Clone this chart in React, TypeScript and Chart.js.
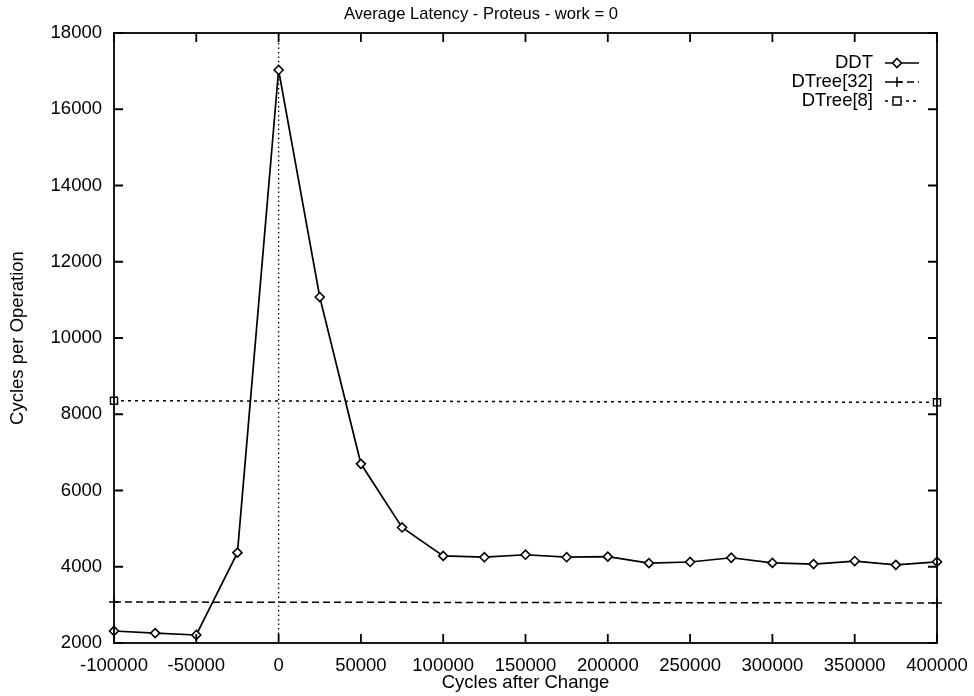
import React, { useEffect, useRef } from "react";
import { Chart, registerables } from "chart.js";

Chart.register(...registerables);

const TITLE = "Average Latency - Proteus - work = 0";
const X_TITLE = "Cycles after Change";
const Y_TITLE = "Cycles per Operation";

const ddtX = [
  -100000, -75000, -50000, -25000, 0, 25000, 50000, 75000, 100000, 125000, 150000,
  175000, 200000, 225000, 250000, 275000, 300000, 325000, 350000, 375000, 400000,
];
const ddtY = [
  2315, 2260, 2210, 4370, 17030, 11075, 6700, 5030, 4285, 4250, 4315,
  4250, 4265, 4095, 4125, 4236, 4100, 4070, 4150, 4050, 4130,
];
const dtree32X = [-100000, 400000];
const dtree32Y = [3075, 3050];
const dtree8X = [-100000, 400000];
const dtree8Y = [8355, 8313];

const X_MIN = -100000;
const X_MAX = 400000;
const X_STEP = 50000;
const Y_MIN = 2000;
const Y_MAX = 18000;
const Y_STEP = 2000;

const FONT = '"Liberation Sans", Arial, Helvetica, sans-serif';

const toPts = (xs: number[], ys: number[]) => xs.map((x, i) => ({ x, y: ys[i] }));

const framePlugin = {
  id: "frame",
  beforeDatasetsDraw(chart: any) {
    const { ctx, chartArea: a, scales } = chart;
    const xs = scales.x;
    const x0 = xs.getPixelForValue(0);
    ctx.save();
    ctx.strokeStyle = "#000";
    ctx.lineWidth = 1.3;
    ctx.setLineDash([1.5, 3]);
    ctx.beginPath();
    ctx.moveTo(x0, a.bottom);
    ctx.lineTo(x0, a.top);
    ctx.stroke();
    ctx.restore();
  },
  afterDraw(chart: any) {
    const { ctx, chartArea: a, scales } = chart;
    const xs = scales.x;
    const ys = scales.y;
    ctx.save();
    ctx.strokeStyle = "#000";
    ctx.lineWidth = 1.8;
    ctx.setLineDash([]);
    ctx.strokeRect(a.left, a.top, a.right - a.left, a.bottom - a.top);
    const L = 9;
    ctx.beginPath();
    xs.ticks.forEach((t: any) => {
      const px = xs.getPixelForValue(t.value);
      ctx.moveTo(px, a.bottom);
      ctx.lineTo(px, a.bottom - L);
      ctx.moveTo(px, a.top);
      ctx.lineTo(px, a.top + L);
    });
    ys.ticks.forEach((t: any) => {
      const py = ys.getPixelForValue(t.value);
      ctx.moveTo(a.left, py);
      ctx.lineTo(a.left + L, py);
      ctx.moveTo(a.right, py);
      ctx.lineTo(a.right - L, py);
    });
    ctx.stroke();

    // title
    ctx.fillStyle = "#000";
    ctx.font = `16.6px ${FONT}`;
    ctx.textAlign = "center";
    ctx.textBaseline = "middle";
    ctx.fillText(TITLE, 481, 14);

    // legend
    ctx.font = `18.5px ${FONT}`;
    const rows = [63, 82, 101];
    const textRight = 873;
    const lx0 = 885;
    const lx1 = 919;
    const mx = 897;
    chart.data.datasets.forEach((ds: any, i: number) => {
      const y = rows[i];
      ctx.fillStyle = "#000";
      ctx.textAlign = "right";
      ctx.fillText(ds.label, textRight, y);
      ctx.strokeStyle = "#000";
      ctx.lineWidth = ds.borderWidth;
      ctx.setLineDash(ds.borderDash || []);
      ctx.beginPath();
      ctx.moveTo(lx0, y);
      ctx.lineTo(lx1, y);
      ctx.stroke();
      ctx.setLineDash([]);
      ctx.lineWidth = ds.pointBorderWidth;
      ctx.fillStyle = "#fff";
      ctx.strokeStyle = "#000";
      const r = ds.pointRadius;
      ctx.beginPath();
      if (ds.pointStyle === "rectRot") {
        ctx.moveTo(mx, y - r);
        ctx.lineTo(mx + r, y);
        ctx.lineTo(mx, y + r);
        ctx.lineTo(mx - r, y);
        ctx.closePath();
        ctx.fill();
        ctx.stroke();
      } else if (ds.pointStyle === "cross") {
        ctx.moveTo(mx - r, y);
        ctx.lineTo(mx + r, y);
        ctx.moveTo(mx, y - r);
        ctx.lineTo(mx, y + r);
        ctx.stroke();
      } else {
        const s = r * 0.8;
        ctx.rect(mx - s, y - s, 2 * s, 2 * s);
        ctx.fill();
        ctx.stroke();
      }
    });
    ctx.restore();
  },
};

export default function App() {
  const ref = useRef<HTMLCanvasElement | null>(null);
  useEffect(() => {
    if (!ref.current) return;
    const chart = new Chart(ref.current, {
      type: "line",
      data: {
        datasets: [
          {
            label: "DDT",
            data: toPts(ddtX, ddtY),
            borderColor: "#000",
            borderWidth: 1.7,
            pointStyle: "rectRot",
            pointRadius: 4.5,
            pointBorderWidth: 1.6,
            pointBackgroundColor: "#fff",
            pointBorderColor: "#000",
            tension: 0,
            clip: false,
          } as any,
          {
            label: "DTree[32]",
            data: toPts(dtree32X, dtree32Y),
            borderColor: "#000",
            borderWidth: 1.5,
            borderDash: [7, 4],
            pointStyle: "cross",
            pointRadius: 5,
            pointBorderWidth: 1.5,
            pointBackgroundColor: "#fff",
            pointBorderColor: "#000",
            clip: false,
          } as any,
          {
            label: "DTree[8]",
            data: toPts(dtree8X, dtree8Y),
            borderColor: "#000",
            borderWidth: 1.5,
            borderDash: [3, 4],
            pointStyle: "rect",
            pointRadius: 5,
            pointBorderWidth: 1.4,
            pointBackgroundColor: "#fff",
            pointBorderColor: "#000",
            clip: false,
          } as any,
        ],
      },
      options: {
        animation: false,
        responsive: true,
        maintainAspectRatio: false,
        layout: { padding: { top: 33, right: 37, left: 0, bottom: 0 } },
        plugins: {
          legend: { display: false },
          title: { display: false },
          tooltip: { enabled: false },
        },
        scales: {
          x: {
            type: "linear",
            min: X_MIN,
            max: X_MAX,
            grid: { display: false, drawTicks: false },
            border: { display: false },
            ticks: {
              stepSize: X_STEP,
              color: "#000",
              font: { family: FONT, size: 18.5, lineHeight: 1.2 },
              padding: 12,
              maxRotation: 0,
              autoSkip: false,
              callback: (v: any) => String(v),
            },
            title: {
              display: true,
              text: X_TITLE,
              color: "#000",
              font: { family: FONT, size: 18.5, lineHeight: 1.2 },
              padding: { top: 0, bottom: 2 },
            },
            afterFit: (s: any) => {
              s.height = 53;
              s.paddingLeft = 0;
              s.paddingRight = 0;
            },
          },
          y: {
            type: "linear",
            min: Y_MIN,
            max: Y_MAX,
            grid: { display: false, drawTicks: false },
            border: { display: false },
            ticks: {
              stepSize: Y_STEP,
              color: "#000",
              font: { family: FONT, size: 18.5, lineHeight: 1.2 },
              padding: 12,
              autoSkip: false,
              callback: (v: any) => String(v),
            },
            title: {
              display: true,
              text: Y_TITLE,
              color: "#000",
              font: { family: FONT, size: 18.5, lineHeight: 1.2 },
              padding: { top: 7, bottom: 0 },
            },
            afterFit: (s: any) => {
              s.width = 114;
              s.paddingTop = 0;
              s.paddingBottom = 0;
            },
          },
        },
      },
      plugins: [framePlugin],
    });
    return () => chart.destroy();
  }, []);
  return (
    <div style={{ position: "absolute", left: 0, top: 0, width: 974, height: 696 }}>
      <canvas ref={ref} />
    </div>
  );
}
